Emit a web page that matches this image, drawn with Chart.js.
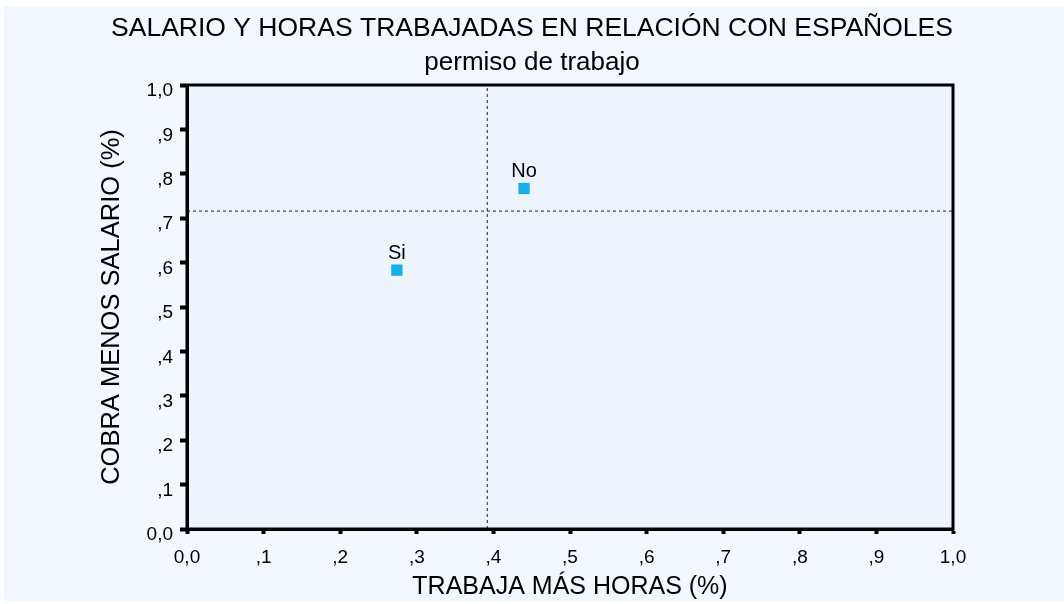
<!DOCTYPE html>
<html>
<head>
<meta charset="utf-8">
<script src="https://cdn.jsdelivr.net/npm/chart.js@4/dist/chart.umd.min.js"></script>
<style>
  html, body { margin: 0; padding: 0; background: #fff; }
  canvas { display: block; }
</style>
</head>
<body>
<canvas id="chart" width="1064" height="604"></canvas>
<script>
// Data
const groupNames = ['Si', 'No'];
const horasValues = [0.274, 0.44];     // TRABAJA MÁS HORAS
const salarioValues = [0.583, 0.767];  // COBRA MENOS SALARIO
const refHoras = 0.392;                // vertical dotted line
const refSalario = 0.716;              // horizontal dotted line
const tickLabels = ['0,0', ',1', ',2', ',3', ',4', ',5', ',6', ',7', ',8', ',9', '1,0'];

const FONT = "'Liberation Sans', Arial, Helvetica, sans-serif";
const MARKER = '#17aeea';

/** Paint page and plot backgrounds. */
const backgroundPlugin = {
  id: 'bg',
  beforeDraw(chart) {
    const { ctx, chartArea: a } = chart;
    ctx.save();
    ctx.fillStyle = '#ffffff';
    ctx.fillRect(0, 0, chart.width, chart.height);
    ctx.fillStyle = '#f2f7fd';
    ctx.fillRect(4, 6, chart.width - 4, chart.height - 9);
    ctx.fillStyle = '#edf4fc';
    ctx.fillRect(a.left, a.top, a.right - a.left, a.bottom - a.top);
    ctx.restore();
  },
};

/** Frame around the plot and labels above the points. */
const framePlugin = {
  id: 'frame',
  afterDraw(chart) {
    const { ctx, chartArea: a } = chart;
    ctx.save();
    ctx.strokeStyle = '#000';
    ctx.lineWidth = 3;
    ctx.strokeRect(a.left, a.top, a.right - a.left, a.bottom - a.top);
    const meta = chart.getDatasetMeta(0);
    ctx.fillStyle = '#000';
    ctx.font = '20px ' + FONT;
    ctx.textAlign = 'center';
    ctx.textBaseline = 'alphabetic';
    meta.data.forEach((el, i) => {
      ctx.fillText(groupNames[i], el.x, el.y - 11);
    });
    ctx.restore();
  },
};

const points = groupNames.map((n, i) => ({ x: horasValues[i], y: salarioValues[i] }));

new Chart(document.getElementById('chart'), {
  type: 'scatter',
  data: {
    datasets: [
      {
        label: 'permiso de trabajo', data: points,
        pointStyle: 'rect', pointRadius: 8, pointHoverRadius: 8,
        backgroundColor: MARKER, borderColor: MARKER, borderWidth: 0,
      },
      {
        label: 'ref horas', data: [{ x: refHoras, y: 0 }, { x: refHoras, y: 1 }],
        showLine: true, pointRadius: 0, borderColor: '#222', borderWidth: 1, borderDash: [3, 3],
      },
      {
        label: 'ref salario', data: [{ x: 0, y: refSalario }, { x: 1, y: refSalario }],
        showLine: true, pointRadius: 0, borderColor: '#222', borderWidth: 1, borderDash: [3, 3],
      },
    ],
  },
  options: {
    responsive: false, animation: false, devicePixelRatio: 1,
    layout: { padding: 0 },
    plugins: {
      legend: { display: false },
      tooltip: { enabled: false },
      title: {
        display: true, text: 'SALARIO Y HORAS TRABAJADAS EN RELACIÓN CON ESPAÑOLES',
        color: '#000', font: { family: FONT, size: 26.5, weight: 'normal', lineHeight: 1.2 },
        padding: { top: 13, bottom: 0 },
      },
      subtitle: {
        display: true, text: 'permiso de trabajo',
        color: '#000', font: { family: FONT, size: 26, weight: 'normal', lineHeight: 1.2 },
        padding: { top: 2, bottom: 7 },
      },
    },
    scales: {
      x: {
        type: 'linear', min: 0, max: 1,
        afterFit: s => { s.height = 75; },
        border: { display: true, color: '#000', width: 3 },
        grid: { drawOnChartArea: false, drawTicks: true, tickLength: 5, tickWidth: 4, tickColor: '#000' },
        ticks: {
          stepSize: 0.1, color: '#000', padding: 12, maxRotation: 0, autoSkip: false,
          font: { family: FONT, size: 19 },
          callback: (v, i) => tickLabels[i],
        },
        title: {
          display: true, text: 'TRABAJA MÁS HORAS (%)', color: '#000',
          font: { family: FONT, size: 25, lineHeight: 1.2 }, padding: { top: 0, bottom: 2 },
        },
      },
      y: {
        type: 'linear', min: 0, max: 1,
        afterFit: s => { s.width = 187; },
        border: { display: true, color: '#000', width: 3 },
        grid: { drawOnChartArea: false, drawTicks: true, tickLength: 7, tickWidth: 4, tickColor: '#000' },
        ticks: {
          stepSize: 0.1, color: '#000', padding: 7, autoSkip: false, labelOffset: 6,
          font: { family: FONT, size: 19 },
          callback: (v, i) => tickLabels[i],
        },
        title: {
          display: true, text: 'COBRA MENOS SALARIO (%)', color: '#000',
          font: { family: FONT, size: 25.5, lineHeight: 1.2 }, padding: { top: 97, bottom: 0 },
        },
      },
      // empty right-hand axis that only reserves the margin right of the plot
      yRight: {
        type: 'linear', position: 'right', min: 0, max: 1,
        afterFit: s => { s.width = 111; },
        border: { display: false },
        grid: { display: false },
        ticks: { display: false },
      },
    },
  },
  plugins: [backgroundPlugin, framePlugin],
});
</script>
</body>
</html>
